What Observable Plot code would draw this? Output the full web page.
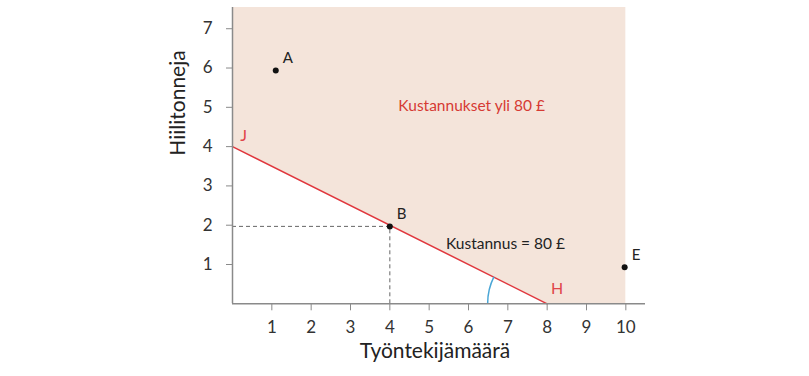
<!DOCTYPE html>
<html>
<head>
<meta charset="utf-8">
<script src="https://cdn.jsdelivr.net/npm/d3@7"></script>
<script src="https://cdn.jsdelivr.net/npm/@observablehq/plot@0.6"></script>
<style>
  html, body { margin: 0; padding: 0; background: #fff; }
  svg { display: block; }
</style>
</head>
<body>
<div id="chart"></div>
<script>
// Data
const xTicks = [1, 2, 3, 4, 5, 6, 7, 8, 9, 10];
const yTicks = [1, 2, 3, 4, 5, 6, 7];
const xTitle = "Työntekijämäärä";
const yTitle = "Hiilitonneja";

// isocost line J -> H (cost = 80 £)
const lineX = [0, 8];
const lineY = [4, 0];

// shaded region above the isocost line (cost above 80 £)
const areaX = [0, 8, 10];
const areaLow = [4, 0, 0];
const yTop = 7.54;

// points
const pointNames = ["A", "B", "E"];
const pointX = [1.1, 4, 9.97];
const pointY = [5.94, 1.97, 0.93];

// end labels
const endNames = ["J", "H"];
const endX = [0.28, 8.25];
const endY = [4.28, 0.38];

// annotations
const annText = ["Kustannukset yli 80 £", "Kustannus = 80 £"];
const annX = [6.08, 6.94];
const annY = [5.03, 1.53];
const annColor = ["#d63a33", "#222"];

// angle arc at H
const arcCenter = [8, 0];
const arcRadius = 1.5;

const lineData = lineX.map((x, i) => ({x, y: lineY[i]}));
const areaData = areaX.map((x, i) => ({x, y1: areaLow[i], y2: yTop}));
const points = pointNames.map((n, i) => ({n, x: pointX[i], y: pointY[i]}));
const ends = endNames.map((n, i) => ({n, x: endX[i], y: endY[i]}));
const anns = annText.map((t, i) => ({t, x: annX[i], y: annY[i], c: annColor[i]}));
const B = points[1];

const font = "Lato, 'Noto Sans', sans-serif";

const arcMark = (index, scales, values, dimensions) => {
  const cx = scales.x(arcCenter[0]);
  const cy = scales.y(arcCenter[1]);
  const r = scales.x(arcRadius) - scales.x(0);
  const ang = Math.atan2(scales.y(lineY[0]) - cy, cx - scales.x(lineX[0]));
  const p = d3.path();
  p.arc(cx, cy, r, Math.PI, Math.PI - ang, false);
  const el = d3.create("svg:path")
    .attr("d", p.toString())
    .attr("fill", "none")
    .attr("stroke", "#4aa6d6")
    .attr("stroke-width", 1.5);
  return el.node();
};

const chart = Plot.plot({
  width: 809,
  height: 376,
  marginLeft: 232,
  marginRight: 164,
  marginTop: 7,
  marginBottom: 72.7,
  style: {fontFamily: font, background: "#fff"},
  x: {domain: [0, 10.5]},
  y: {domain: [0, yTop]},
  marks: [
    Plot.areaY(areaData, {x: "x", y1: "y1", y2: "y2", fill: "#f4e4da", curve: "linear"}),
    Plot.ruleY([B.y], {x1: 0, x2: B.x, stroke: "#666", strokeDasharray: "4,3", strokeWidth: 1}),
    Plot.ruleX([B.x], {y1: 0, y2: B.y, stroke: "#666", strokeDasharray: "4,3", strokeWidth: 1}),
    Plot.line(lineData, {x: "x", y: "y", stroke: "#e0363c", strokeWidth: 1.5}),
    arcMark,
    Plot.ruleY([0], {x1: 0, x2: 10.5, stroke: "#8a8a8a", strokeWidth: 1.5}),
    Plot.ruleX([0], {y1: 0, y2: yTop, stroke: "#8a8a8a", strokeWidth: 1.5}),
    Plot.axisX({ticks: xTicks, tickSize: 7, tickPadding: 10, fontSize: 17, stroke: "#8a8a8a", color: "#333", label: null}),
    Plot.axisY({ticks: yTicks, tickSize: 6, tickPadding: 14, fontSize: 17, stroke: "#8a8a8a", color: "#333", label: null}),
    Plot.text([xTitle], {frameAnchor: "bottom", dy: 54, dx: -4, fontSize: 21, fill: "#222"}),
    Plot.text([yTitle], {frameAnchor: "left", rotate: -90, dx: -54, fontSize: 21, fill: "#222"}),
    Plot.dot(points, {x: "x", y: "y", r: 3, fill: "#111"}),
    Plot.text(points, {x: "x", y: "y", text: "n", dx: 7, dy: -12, textAnchor: "start", fontSize: 15, fill: "#222"}),
    Plot.text(ends, {x: "x", y: "y", text: "n", fontSize: 16, fill: "#e0454a"}),
    Plot.text(anns, {x: "x", y: "y", text: "t", fill: "c", fontSize: 15.5})
  ]
});

document.getElementById("chart").appendChild(chart);
</script>
</body>
</html>
